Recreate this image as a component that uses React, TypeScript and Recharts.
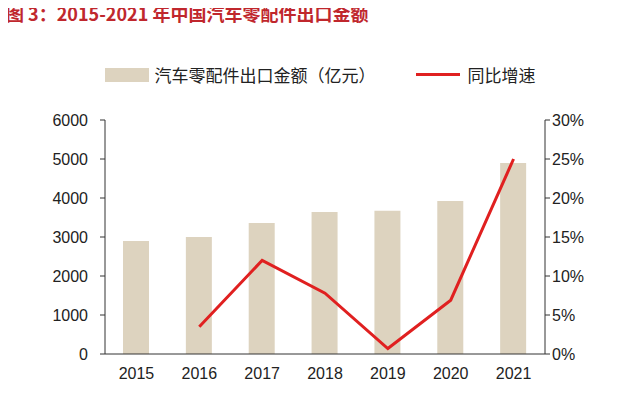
import React from 'react';
import { ComposedChart, Bar, Line, XAxis, YAxis } from 'recharts';

const years = ['2015', '2016', '2017', '2018', '2019', '2020', '2021'];
const exportValue = [2900, 3000, 3360, 3640, 3670, 3920, 4900];
const growth = [null, 3.5, 12, 7.8, 0.7, 6.9, 25];
const leftTicks = [0, 1000, 2000, 3000, 4000, 5000, 6000];
const rightTicks = [0, 5, 10, 15, 20, 25, 30];

const data = years.map((y, i) => ({ year: y, value: exportValue[i], growth: growth[i] }));

const font = '"Noto Sans CJK SC", "Noto Sans", sans-serif';
const tick = { fill: '#222', fontSize: 16, fontFamily: '"Liberation Sans", Arial, sans-serif' };

const App: React.FC = () => {
  return (
    <div style={{ position: 'relative', width: 640, height: 420, margin: -8, background: '#fff', fontFamily: font }}>
      <div style={{ position: 'absolute', left: 6, top: 0, fontSize: 18, fontWeight: 'bold', color: '#c0272d' }}>
        图 3：2015-2021 年中国汽车零配件出口金额
      </div>
      <div style={{ position: 'absolute', top: 62, left: 0, width: 640, display: 'flex', justifyContent: 'center', alignItems: 'center', fontSize: 17, color: '#222' }}>
        <span style={{ display: 'inline-block', width: 44, height: 14, background: '#ddd3bf', marginRight: 6 }} />
        <span>汽车零配件出口金额（亿元）</span>
        <span style={{ display: 'inline-block', width: 44, height: 3, background: '#e02020', marginLeft: 40, marginRight: 8 }} />
        <span>同比增速</span>
      </div>
      <div style={{ position: 'absolute', top: 0, left: 0 }}>
        <ComposedChart width={640} height={400} data={data} margin={{ top: 120, right: 0, left: 0, bottom: 16 }}>
          <XAxis dataKey="year" tick={tick} stroke="#333" tickLine={false} height={30} tickMargin={8} />
          <YAxis yAxisId="l" width={105} domain={[0, 6000]} ticks={leftTicks} tick={tick} stroke="#333" tickSize={5} tickMargin={12} />
          <YAxis yAxisId="r" orientation="right" width={95} domain={[0, 30]} ticks={rightTicks} tick={tick} stroke="#333" tickSize={5} tickFormatter={(v) => `${v}%`} />
          <Bar yAxisId="l" dataKey="value" fill="#ddd3bf" barSize={26} isAnimationActive={false} />
          <Line yAxisId="r" dataKey="growth" stroke="#e02020" strokeWidth={3} dot={false} connectNulls={false} isAnimationActive={false} />
        </ComposedChart>
      </div>
    </div>
  );
};

export default App;
